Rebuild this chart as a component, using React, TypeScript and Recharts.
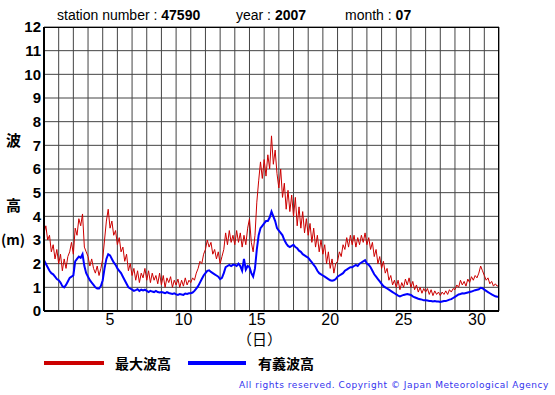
import { LineChart, Line, XAxis, YAxis, CartesianGrid, ReferenceLine } from 'recharts';

// 3-hourly readings, station 47590, July 2007
const stepsPerDay = 8;
const gridDays = [1, 2, 3, 4, 5, 6, 7, 8, 9, 10, 11, 12, 13, 14, 15, 16, 17, 18, 19, 20, 21, 22, 23, 24, 25, 26, 27, 28, 29, 30, 31, 32];
const dayLabels = [5, 10, 15, 20, 25, 30];
const heightTicks = [0, 1, 2, 3, 4, 5, 6, 7, 8, 9, 10, 11, 12];

// 最大波高 (m), one row per day
const maxWave = [
  3.3, 3.6, 3.0, 3.2, 2.5, 2.8, 2.2, 2.6,
  2.0, 2.4, 1.7, 2.2, 1.8, 2.3, 2.5, 2.9,
  2.4, 3.5, 3.2, 3.9, 3.6, 4.1, 2.7, 2.5,
  2.3, 1.9, 2.2, 1.8, 1.6, 1.9, 1.5, 1.8,
  2.2, 3.0, 3.8, 4.3, 3.5, 3.8, 3.2, 3.4,
  2.8, 3.1, 2.5, 2.7, 2.1, 2.4, 1.7, 2.0,
  1.5, 1.8, 1.3, 1.7, 1.2, 1.6, 1.4, 1.8,
  1.3, 1.7, 1.2, 1.6, 1.3, 1.5, 1.15, 1.6,
  1.1, 1.5, 1.0, 1.4, 1.2, 1.45, 1.0, 1.3,
  1.1, 1.35, 1.0, 1.3, 1.05, 1.4, 1.1, 1.3,
  1.2, 1.4, 1.3, 1.6, 1.8, 2.1, 2.0, 2.4,
  2.6, 3.0, 2.7, 2.9, 2.4, 2.6, 2.2, 2.5,
  2.0, 2.3, 2.6, 3.3, 2.8, 3.4, 2.9, 3.2,
  2.8, 3.4, 2.9, 3.3, 2.7, 3.2, 2.8, 3.5,
  3.9, 2.9, 2.5, 3.2, 4.6, 5.5, 6.3, 5.6,
  6.4, 5.7, 6.6, 6.0, 7.4, 6.2, 6.8, 5.8,
  5.2, 6.0, 4.8, 5.4, 4.3, 5.1, 4.2, 4.9,
  4.0, 4.8, 3.6, 4.4, 3.5, 4.2, 3.3, 3.9,
  3.2, 3.7, 2.9, 3.5, 2.7, 3.2, 2.5, 3.0,
  2.4, 2.8, 2.0, 2.5, 1.8, 2.2, 1.6, 2.0,
  2.1, 2.5, 2.3, 2.8, 2.6, 3.1, 2.7, 3.2,
  2.8, 3.2, 2.7, 3.1, 2.8, 3.2, 2.9, 3.3,
  2.8, 3.1, 2.6, 2.9, 2.3, 2.6, 2.0, 2.3,
  1.8, 2.1, 1.6, 1.8, 1.3, 1.5, 1.1, 1.3,
  1.0, 1.3, 0.9, 1.2, 1.0, 1.35, 1.1, 1.4,
  1.0, 1.25, 0.9, 1.1, 0.8, 1.0, 0.75, 0.95,
  0.8, 0.95, 0.7, 0.9, 0.65, 0.85, 0.7, 0.8,
  0.65, 0.8, 0.7, 0.85, 0.7, 0.9, 0.8, 0.95,
  0.9, 1.1, 1.0, 1.3, 1.1, 1.25, 1.05, 1.35,
  1.2, 1.45, 1.3, 1.5, 1.4, 1.6, 1.9, 1.7,
  1.5, 1.3, 1.4, 1.15, 1.25, 1.05, 1.15, 1.05,
  1.1,
];

// 有義波高 (m), one row per day
const sigWave = [
  2.15, 2.0, 1.85, 1.7, 1.6, 1.55, 1.45, 1.35,
  1.3, 1.2, 1.05, 1.0, 1.1, 1.25, 1.4, 1.45,
  1.5, 2.1, 2.2, 2.3, 2.25, 2.4, 1.9, 1.6,
  1.45, 1.3, 1.2, 1.1, 1.0, 0.95, 0.95, 1.05,
  1.3, 1.8, 2.2, 2.4, 2.35, 2.2, 2.05, 1.95,
  1.8, 1.7, 1.6, 1.45, 1.3, 1.15, 1.0, 0.95,
  0.9, 0.85, 0.88, 0.92, 0.85, 0.9, 0.87, 0.9,
  0.85, 0.8, 0.85, 0.82, 0.8, 0.85, 0.8, 0.78,
  0.8, 0.78, 0.75, 0.8, 0.76, 0.74, 0.72, 0.75,
  0.7, 0.68, 0.72, 0.7, 0.68, 0.74, 0.72, 0.75,
  0.75, 0.78, 0.85, 0.95, 1.05, 1.2, 1.35, 1.5,
  1.6, 1.7, 1.72, 1.65, 1.6, 1.55, 1.5, 1.45,
  1.35, 1.4, 1.6, 1.85, 1.9, 1.95, 1.9, 1.95,
  1.95, 1.9, 2.0, 1.9, 1.7, 2.2, 1.75, 1.9,
  1.85, 1.6, 1.45, 1.8, 2.6, 3.2, 3.5, 3.6,
  3.7, 3.8, 3.8, 3.95, 4.2, 4.0, 3.8, 3.5,
  3.4, 3.3, 3.2, 3.0, 2.85, 2.75, 2.7, 2.75,
  2.8, 2.7, 2.65, 2.55, 2.5, 2.4, 2.35, 2.3,
  2.25, 2.15, 2.05, 1.95, 1.85, 1.7, 1.6, 1.55,
  1.5, 1.45, 1.4, 1.35, 1.3, 1.28, 1.3, 1.35,
  1.45, 1.5, 1.55, 1.6, 1.7, 1.75, 1.8, 1.85,
  1.85, 1.9, 1.95, 1.9, 2.0, 2.05, 2.1, 2.15,
  2.0, 1.95, 1.85, 1.7, 1.55, 1.45, 1.35, 1.25,
  1.15, 1.05, 1.0, 0.95, 0.9, 0.85, 0.8, 0.75,
  0.7, 0.65, 0.62, 0.65, 0.68, 0.7, 0.72, 0.7,
  0.68, 0.62, 0.58, 0.55, 0.52, 0.5, 0.48, 0.45,
  0.45, 0.44, 0.42, 0.42, 0.4, 0.42, 0.4, 0.4,
  0.38, 0.4, 0.42, 0.42, 0.45, 0.48, 0.5, 0.55,
  0.6, 0.65, 0.7, 0.72, 0.75, 0.74, 0.76, 0.78,
  0.8, 0.82, 0.85, 0.88, 0.9, 0.92, 0.98, 0.96,
  0.9, 0.85, 0.8, 0.75, 0.7, 0.66, 0.62, 0.6,
  0.6,
];

const data = maxWave.map((v, i) => ({ t: 1 + i / stepsPerDay, max: v, sig: sigWave[i] }));

const font = '"Liberation Sans", Arial, sans-serif';
const cjk = '"Noto Sans CJK JP", sans-serif';

function abs(left: number, top: number, extra: React.CSSProperties = {}): React.CSSProperties {
  return { position: 'absolute', left, top, whiteSpace: 'nowrap', ...extra };
}

export default function App() {
  return (
    <div style={{ position: 'absolute', left: 0, top: 0, width: 555, height: 395, background: '#fff', fontFamily: font, color: '#000' }}>
      <div style={abs(57, 7, { fontSize: 14 })}>
        station number : <b>47590</b>
      </div>
      <div style={abs(236, 7, { fontSize: 14 })}>
        year : <b>2007</b>
      </div>
      <div style={abs(345, 7, { fontSize: 14 })}>
        month : <b>07</b>
      </div>

      <LineChart
        width={555}
        height={395}
        data={data}
        margin={{ top: 27, right: 56, bottom: 0, left: 0 }}
        style={{ position: 'absolute', left: 0, top: 0 }}
      >
        <CartesianGrid vertical={false} stroke="#444" strokeWidth={1} />
        {gridDays.map((d) => (
          <ReferenceLine key={d} x={d} stroke="#444" strokeWidth={1} ifOverflow="visible" />
        ))}
        <XAxis
          dataKey="t"
          type="number"
          domain={[1, 32]}
          ticks={dayLabels.map((d) => d + 0.5)}
          tickFormatter={(v) => String(Math.floor(v))}
          tick={{ fontSize: 16, fill: '#000', fontFamily: font }}
          tickLine={false}
          tickSize={2}
          tickMargin={1}
          axisLine={{ stroke: '#000', strokeWidth: 2 }}
          height={84}
        />
        <YAxis
          type="number"
          domain={[0, 12]}
          ticks={heightTicks}
          width={44}
          tickLine={false}
          tickSize={1}
          tickMargin={2}
          axisLine={{ stroke: '#000', strokeWidth: 2 }}
          tick={{ fontSize: 15, fontWeight: 'bold', fill: '#000', fontFamily: font }}
        />
        <Line
          dataKey="max"
          type="linear"
          stroke="#cc0000"
          strokeWidth={1}
          dot={false}
          isAnimationActive={false}
        />
        <Line
          dataKey="sig"
          type="linear"
          stroke="#0000ff"
          strokeWidth={2}
          dot={false}
          isAnimationActive={false}
        />
      </LineChart>

      <div style={{ position: 'absolute', left: 44, top: 27, width: 455, height: 285, border: '1.5px solid #000', boxSizing: 'border-box', pointerEvents: 'none' }} />

      <div style={abs(6, 132, { fontSize: 15, lineHeight: '16px', fontFamily: cjk, fontWeight: 'bold' })}>波</div>
      <div style={abs(6, 197, { fontSize: 15, lineHeight: '16px', fontFamily: cjk, fontWeight: 'bold' })}>高</div>
      <div style={abs(1, 232, { fontSize: 14, lineHeight: '14px', fontFamily: cjk, fontWeight: 'bold' })}>(m)</div>
      <div style={abs(237, 333, { fontSize: 15, lineHeight: '12px', fontFamily: cjk })}>（日）</div>

      <div style={abs(44, 361, { width: 60, height: 4, background: '#cc0000' })} />
      <div style={abs(115, 355, { fontSize: 14, lineHeight: '16px', fontFamily: cjk, fontWeight: 'bold' })}>最大波高</div>
      <div style={abs(188, 361, { width: 58, height: 4, background: '#0000ff' })} />
      <div style={abs(258, 355, { fontSize: 14, lineHeight: '16px', fontFamily: cjk, fontWeight: 'bold' })}>有義波高</div>

      <div style={{ position: 'absolute', right: 6, top: 379, lineHeight: '12px', whiteSpace: 'nowrap', fontSize: 9, fontFamily: '"DejaVu Sans", sans-serif', letterSpacing: 0.55, color: '#3333ee' }}>
        All rights reserved. Copyright © Japan Meteorological Agency
      </div>
    </div>
  );
}
